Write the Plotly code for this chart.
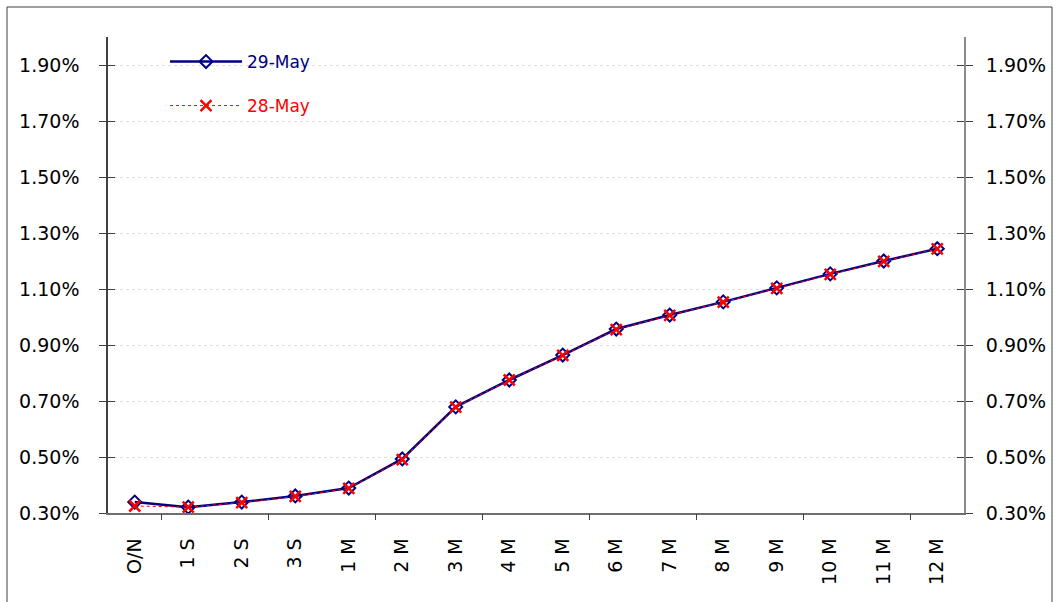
import plotly.graph_objects as go

categories = ["O/N", "1 S", "2 S", "3 S", "1 M", "2 M", "3 M", "4 M", "5 M",
              "6 M", "7 M", "8 M", "9 M", "10 M", "11 M", "12 M"]
may29 = [0.339, 0.321, 0.339, 0.361, 0.389, 0.493, 0.679, 0.775, 0.864,
         0.957, 1.007, 1.054, 1.104, 1.154, 1.200, 1.244]
may28 = [0.325, 0.321, 0.337, 0.359, 0.388, 0.491, 0.678, 0.775, 0.863,
         0.955, 1.006, 1.053, 1.102, 1.152, 1.199, 1.243]
ytick_vals = [0.3, 0.5, 0.7, 0.9, 1.1, 1.3, 1.5, 1.7, 1.9]
ytick_text = [f"{v:.2f}%" for v in ytick_vals]
xtick_boundaries = [0.5, 2.5, 4.5, 6.5, 8.5, 10.5, 12.5, 14.5]

FONT = "DejaVu Sans"
NAVY = "#000080"
RED = "#FF0000"
YR = [0.3, 2.0]

fig = go.Figure()
fig.add_trace(go.Scatter(
    x=categories, y=may29, name="29-May", mode="lines+markers",
    line=dict(color=NAVY, width=2.5),
    marker=dict(symbol="diamond-open", size=10, color=NAVY, line=dict(width=2, color=NAVY)),
    legend="legend",
))
fig.add_trace(go.Scatter(
    x=categories, y=may28, name="28-May", mode="lines+markers",
    line=dict(color=RED, width=1, dash="dot"),
    marker=dict(symbol="x-thin-open", size=11, color=RED, line=dict(width=2.5, color=RED)),
    legend="legend2",
))
# empty traces so that the overlay axes (boundary ticks, right axis, crossing ticks) render
for xa, ya in [("x2", "y"), ("x", "y2"), ("x", "y3"), ("x", "y4")]:
    fig.add_trace(go.Scatter(x=[None], y=[None], xaxis=xa, yaxis=ya,
                             showlegend=False, hoverinfo="skip", mode="lines"))

L, R, T, B = 108, 94, 37, 89
W, H = 1058, 602
pw = W - L - R
ph = H - T - B

def px_x(p):
    return (p - L) / pw

def px_y(p):
    return (H - B - p) / ph

fig.update_layout(
    width=W, height=H,
    margin=dict(l=L, r=R, t=T, b=B, pad=0, autoexpand=False),
    paper_bgcolor="white", plot_bgcolor="white",
    font=dict(family=FONT, size=19, color="black"),
    xaxis=dict(
        type="category", range=[-0.5, 15.5], tickangle=-90,
        ticks="", showline=True, linecolor="#6e6e6e", linewidth=1.5,
        showgrid=False, ticklabelstandoff=16, zeroline=False,
        tickfont=dict(size=19),
    ),
    xaxis2=dict(
        overlaying="x", anchor="y", range=[-0.5, 15.5], type="linear",
        tickvals=xtick_boundaries, ticks="outside", ticklen=6, tickcolor="#404040",
        showticklabels=False, showgrid=False, zeroline=False, showline=False,
    ),
    yaxis=dict(
        range=YR, tickvals=ytick_vals, ticktext=ytick_text,
        ticks="outside", ticklen=7, tickcolor="#404040",
        showline=True, linecolor="#404040", linewidth=1.5,
        showgrid=True, gridcolor="#e0e0e0", griddash="dot", gridwidth=1,
        zeroline=False, ticklabelstandoff=16,
    ),
    yaxis3=dict(
        overlaying="y", side="left", anchor="x", range=YR, tickvals=ytick_vals,
        ticks="inside", ticklen=7, tickcolor="#404040",
        showticklabels=False, showgrid=False, zeroline=False, showline=False,
    ),
    yaxis2=dict(
        overlaying="y", side="right", anchor="x", range=YR,
        tickvals=ytick_vals, ticktext=ytick_text,
        ticks="outside", ticklen=7, tickcolor="#404040",
        showline=True, linecolor="#8a8a8a", linewidth=2,
        showgrid=False, zeroline=False, ticklabelstandoff=9,
    ),
    yaxis4=dict(
        overlaying="y", side="right", anchor="x", range=YR, tickvals=ytick_vals,
        ticks="inside", ticklen=7, tickcolor="#404040",
        showticklabels=False, showgrid=False, zeroline=False, showline=False,
    ),
    legend=dict(
        x=px_x(165), y=px_y(62), xanchor="left", yanchor="middle",
        bgcolor="rgba(0,0,0,0)", font=dict(family=FONT, size=17, color=NAVY),
        itemwidth=72,
    ),
    legend2=dict(
        x=px_x(165), y=px_y(106), xanchor="left", yanchor="middle",
        bgcolor="rgba(0,0,0,0)", font=dict(family=FONT, size=17, color=RED),
        itemwidth=72,
    ),
    showlegend=True,
    shapes=[dict(
        type="rect", xref="paper", yref="paper",
        x0=px_x(7), x1=px_x(1052), y0=px_y(606), y1=px_y(7),
        line=dict(color="#404040", width=1), fillcolor="rgba(0,0,0,0)", layer="below",
    )],
)

fig.write_html("out.html", config={"displayModeBar": False},
               post_script="document.body.style.margin='0';document.body.style.padding='0';")
